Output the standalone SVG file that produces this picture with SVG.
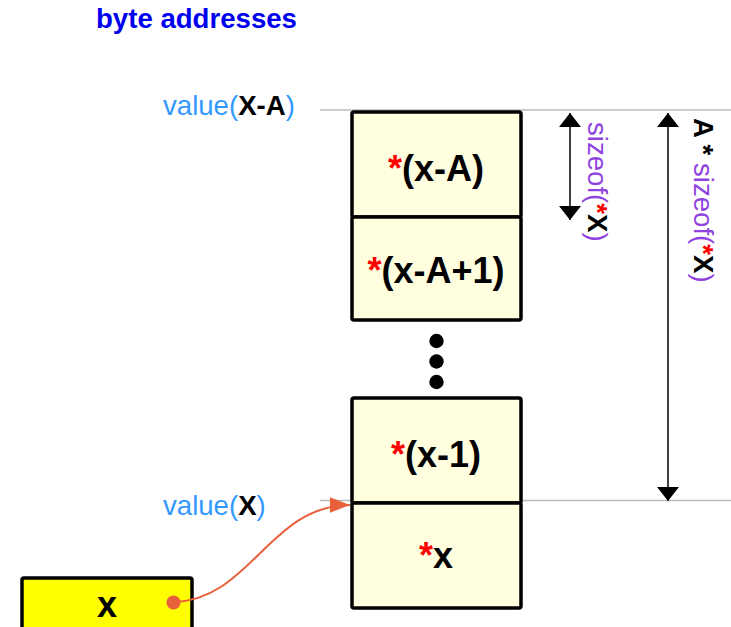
<svg xmlns="http://www.w3.org/2000/svg" width="731" height="627" viewBox="0 0 731 627">
<style>
text{font-family:"Liberation Sans",Arial,sans-serif}
.lbl{font-size:27.6px}
.b{font-weight:bold}
.blue{fill:#3399ff}
.purple{fill:#8f44e0}
.red{fill:#ff0000}
.blk{fill:#000000}
.cell{fill:#ffffe0;stroke:#000;stroke-width:3.5}
.ctext{font-size:36px;font-weight:bold;text-anchor:middle}
.guide{stroke:#bbbbbb;stroke-width:1.5}
.dim{stroke:#000;stroke-width:1.5;fill:none}
</style>
<defs>
<marker id="ah" markerWidth="14" markerHeight="22" refX="14" refY="11" orient="auto-start-reverse" markerUnits="userSpaceOnUse" viewBox="0 0 14 22">
<path d="M0,0 L14,11 L0,22 Z" fill="#000"/>
</marker>
<marker id="oh" markerWidth="20" markerHeight="16" refX="18" refY="7" orient="auto" markerUnits="userSpaceOnUse" viewBox="0 0 18 14">
<path d="M0,0 L18,7 L0,14 Z" fill="#e8603c"/>
</marker>
</defs>

<text id="title" x="96" y="28" class="lbl b" fill="#0000ee">byte addresses</text>

<g id="guides">
<line class="guide" x1="320" y1="110" x2="731" y2="110"/>
<line class="guide" x1="320" y1="500.5" x2="731" y2="500.5"/>
</g>

<text id="valueXA" x="163" y="115" class="lbl"><tspan class="blue">value(</tspan><tspan class="b blk">X-A</tspan><tspan class="blue">)</tspan></text>
<text id="valueX" x="163" y="515" class="lbl"><tspan class="blue">value(</tspan><tspan class="b blk">X</tspan><tspan class="blue">)</tspan></text>

<g id="cell1">
<rect class="cell" x="352" y="112" width="169" height="105" rx="2"/>
<text class="ctext" x="436" y="181"><tspan class="red">*</tspan>(x-A)</text>
</g>
<g id="cell2">
<rect class="cell" x="352" y="217" width="169" height="103" rx="2"/>
<text class="ctext" x="436" y="283"><tspan class="red">*</tspan>(x-A+1)</text>
</g>
<g id="ellipsis">
<circle cx="436.5" cy="341" r="7.2"/>
<circle cx="436.5" cy="361.5" r="7.2"/>
<circle cx="436.5" cy="382" r="7.2"/>
</g>
<g id="cell3">
<rect class="cell" x="352" y="398" width="169" height="105" rx="2"/>
<text class="ctext" x="436" y="467"><tspan class="red">*</tspan>(x-1)</text>
</g>
<g id="cell4">
<rect class="cell" x="352" y="503" width="169" height="105" rx="2"/>
<text class="ctext" x="436" y="568"><tspan class="red">*</tspan>x</text>
</g>

<g id="ptr">
<rect x="22" y="578" width="170" height="60" fill="#ffff00" stroke="#000" stroke-width="3.5" rx="2"/>
<text class="ctext" x="107" y="617">x</text>
</g>

<g id="connectors">
<line class="dim" x1="570" y1="113" x2="570" y2="220" marker-start="url(#ah)" marker-end="url(#ah)"/>
<line class="dim" x1="668" y1="113" x2="668" y2="501" marker-start="url(#ah)" marker-end="url(#ah)"/>
<path d="M174,602 C250,600 270,505 350,505" fill="none" stroke="#e8603c" stroke-width="2" marker-end="url(#oh)"/>
<circle cx="173.5" cy="602.5" r="7" fill="#e8603c"/>
</g>

<text id="sizeof1" class="lbl" transform="translate(588,122) rotate(90)"><tspan class="purple">sizeof(</tspan><tspan class="b red">*</tspan><tspan class="b blk">X</tspan><tspan class="purple">)</tspan></text>
<text id="sizeof2" class="lbl" transform="translate(694,118) rotate(90)"><tspan class="b blk">A * </tspan><tspan class="purple">sizeof(</tspan><tspan class="b red">*</tspan><tspan class="b blk">X</tspan><tspan class="purple">)</tspan></text>
</svg>
